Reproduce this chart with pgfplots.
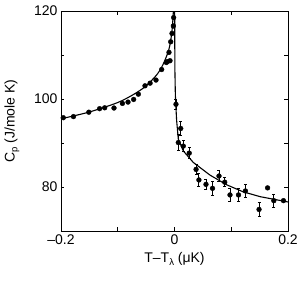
\documentclass[border=0pt]{standalone}
\usepackage{fontspec}
\setmainfont{Liberation Sans}
\usepackage{pgfplots}
\pgfplotsset{compat=1.18}
\begin{document}
\begin{tikzpicture}[x=1pt,y=1pt]
\begin{axis}[
  name=ax,
  scale only axis,
  width=227pt, height=220pt,
  xmin=-0.2, xmax=0.2, ymin=70, ymax=120,
  xtick={-0.2,-0.1,0,0.1,0.2},
  xticklabels={–0.2,,0,,0.2},
  ytick={70,80,90,100,110,120},
  yticklabels={,80,,100,,120},
  tick align=inside,
  major tick length=3.5pt,
  axis line style={line width=0.9pt},
  every tick/.style={line width=0.8pt,black},
  /pgf/number format/assume math mode=true,
  tick label style={font=\fontsize{14}{16}\selectfont},
  label style={font=\fontsize{14}{16}\selectfont},
  xlabel={T–T\raisebox{-0.35ex}{\fontsize{9.5}{10}\selectfont λ} (μK)},
  ylabel={C\raisebox{-0.35ex}{\fontsize{9.5}{10}\selectfont p} (J/mole K)},
  xlabel style={yshift=-1pt},
  ylabel style={yshift=8pt},
  clip=true,
]
% fit curve, below Tlambda
\addplot[black, line width=1.1pt, smooth] coordinates {
 (-0.2,95.5) (-0.15,97.05) (-0.1,99.2) (-0.07,101.2) (-0.05,103.0)
 (-0.03,105.7) (-0.02,107.9) (-0.01,111.2) (-0.005,114.8) (-0.003,117.8)
 (-0.0015,121)
};
% fit curve, above Tlambda
\addplot[black, line width=1.1pt] coordinates {
 (0.0003,121) (0.0005,112) (0.0008,106) (0.0015,101) (0.0026,98)
 (0.0037,95.2) (0.0067,90.9) (0.0155,88.2) (0.033,85.6) (0.0626,82.7)
 (0.092,80.5) (0.121,78.9) (0.151,77.8) (0.2,76.6)
};
% data below Tlambda
\addplot[only marks, mark=*, mark size=2.4pt, black] coordinates {
 (-0.196,95.75) (-0.178,96.0) (-0.151,97.0) (-0.132,97.8) (-0.123,98.0)
 (-0.1066,97.95) (-0.0918,99.0) (-0.0819,99.3) (-0.072,99.9) (-0.0637,101.1)
 (-0.052,103.0) (-0.043,103.6) (-0.0326,104.3) (-0.0226,106.7) (-0.0144,108.3)
 (-0.0127,108.5) (-0.0079,108.7) (-0.0097,110.6) (-0.0067,113.0) (-0.0044,114.9)
 (-0.002,116.6) (-0.0015,118.5)
};
% data above Tlambda, with error bars
\addplot[only marks, mark=*, mark size=2.4pt, black,
  error bars/.cd, y dir=both, y explicit, error bar style={line width=0.9pt}, error mark options={rotate=90, mark size=1.5pt, line width=0.8pt}]
 coordinates {
 (0.0026,98.8) +- (0,1.2)
 (0.0067,90.1) +- (0,1.8)
 (0.011,93.3) +- (0,1.5)
 (0.0155,89.3) +- (0,1.2)
 (0.026,87.7) +- (0,1.2)
 (0.038,84.0) +- (0,1.2)
 (0.043,81.6) +- (0,1.5)
 (0.0555,80.6) +- (0,1.2)
 (0.067,79.7) +- (0,1.5)
 (0.0784,82.5) +- (0,1.2)
 (0.0885,81.1) +- (0,1.0)
 (0.0978,78.2) +- (0,1.5)
 (0.1128,78.2) +- (0,1.5)
 (0.125,79.1) +- (0,1.5)
 (0.149,74.9) +- (0,1.5)
 (0.164,79.8) +- (0,0)
 (0.175,76.9) +- (0,1.5)
 (0.192,76.9) +- (0,0)
};
\end{axis}
\path[use as bounding box] (ax.south west) ++(-61pt,-50pt) rectangle ++(303pt,281pt);
\end{tikzpicture}
\end{document}
